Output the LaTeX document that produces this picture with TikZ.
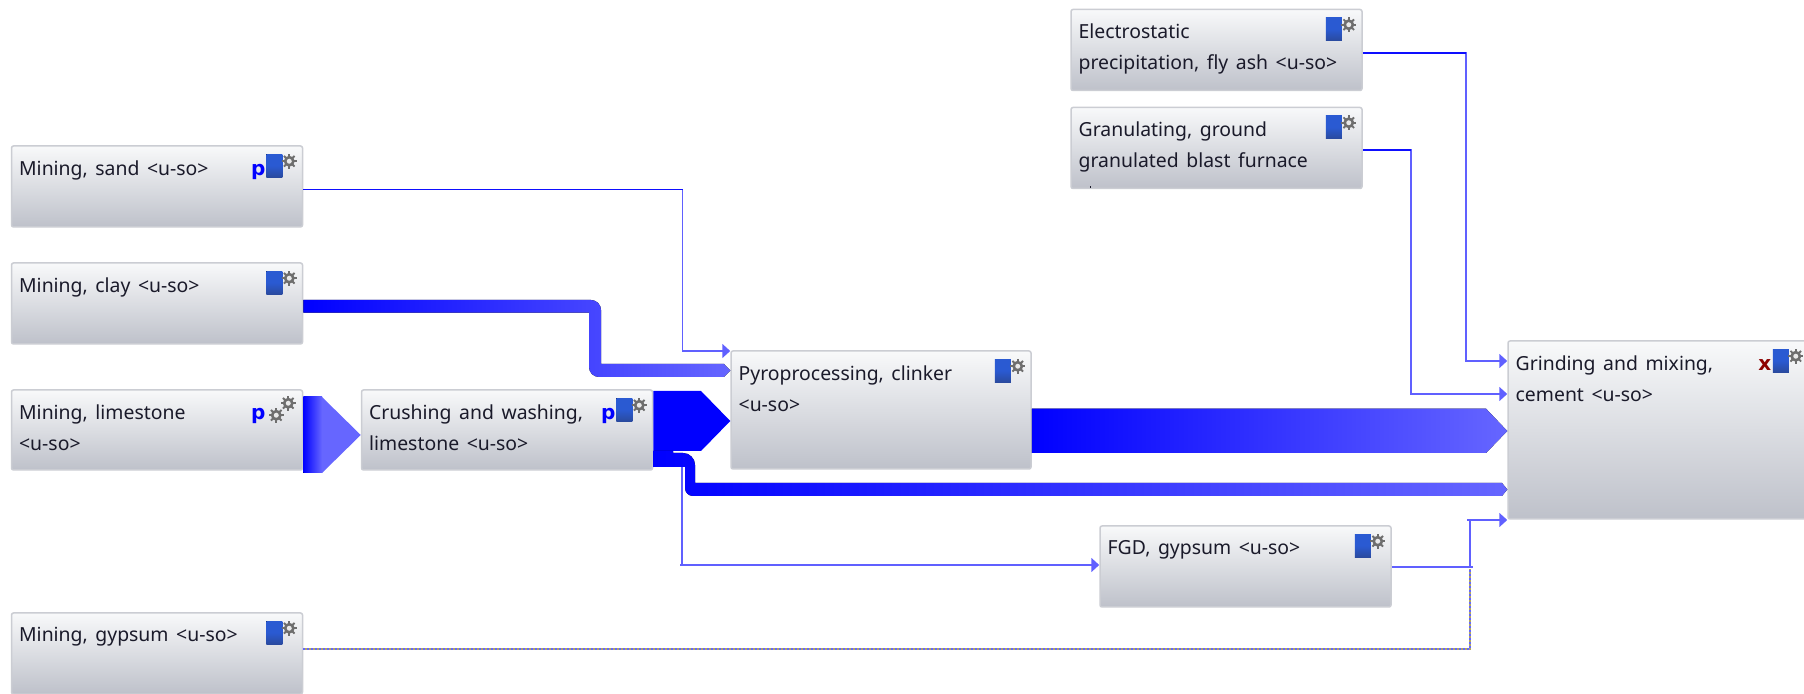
\documentclass[tikz,border=0pt]{standalone}
\usepackage{fontspec}
\setmainfont{Noto Sans}[WordSpace=1.5]
\newfontfamily\flagfont{DejaVu Sans}
\usetikzlibrary{arrows.meta,calc}
\definecolor{boxtop}{HTML}{F8F9FA}
\definecolor{boxbot}{HTML}{BEC1CA}
\definecolor{boxline}{HTML}{CBCDD3}
\definecolor{flowdark}{HTML}{0000FF}
\definecolor{flowlight}{HTML}{6666FF}
\definecolor{thinline}{HTML}{6060FF}
\definecolor{iconblue}{HTML}{2A5AD2}
\definecolor{iconlow}{HTML}{2A4A9E}
\definecolor{gearcol}{HTML}{6E6E6E}
\definecolor{textcol}{HTML}{1A1A2A}
\definecolor{mixline}{HTML}{B0A860}
\begin{document}
\begin{tikzpicture}[x=0.5pt,y=-0.5pt,>={Triangle[length=4pt,width=7pt]},
box/.style={draw=boxline,line width=0.75pt,rounded corners=1pt,top color=boxtop,bottom color=boxbot,inner sep=0pt,minimum width=145.5pt,minimum height=40.5pt},
boxtext/.style={anchor=north west,align=left,inner sep=0pt,font=\fontsize{9.7}{15.5}\selectfont,text=textcol,xshift=4pt,yshift=-7.5pt},
pflag/.style={anchor=base,inner sep=0pt,font=\fontsize{10}{12}\flagfont\bfseries,text=flowdark,xshift=-22.5pt,yshift=-15pt},
thin/.style={draw=thinline,line width=0.8pt},
thinstart/.style={draw=flowdark!85!thinline,line width=0.8pt},
flowfade/.style={left color=flowdark,right color=flowlight},
gear/.pic={\foreach \a in {0,45,...,315}\draw[gearcol,line width=0.9pt] (0,0)--(\a:7.5);
 \fill[gearcol] (0,0) circle (5.5); \fill[white!85!gearcol] (0,0) circle (2.5);},
procicon/.pic={\fill[top color=iconblue,bottom color=iconlow,middle color=iconblue] (-37,9) rectangle (-21,32);
 \pic at (-14,16) {gear};}]
\useasboundingbox (0,0) rectangle (1804,694);
\clip (0,0) rectangle (1804,694);
\node[box] (sand) at (157,186.5) {};
\node[box] (clay) at (157,303.5) {};
\node[box,minimum height=40pt] (limestone) at (157,430) {};
\node[box,minimum height=40pt] (crushing) at (507,430) {};
\node[box,minimum width=150pt,minimum height=59pt] (pyro) at (881,410) {};
\node[box] (ash) at (1216.5,50) {};
\node[box] (slag) at (1216.5,148) {};
\node[box] (fgd) at (1245.5,566.5) {};
\node[box] (gypsum) at (157,653.5) {};
\node[box,minimum width=150.5pt,minimum height=89pt] (cement) at (1658.5,430) {};
\node[boxtext] (sandtext) at (sand.north west) {Mining, sand <u-so>};
\node[boxtext] (claytext) at (clay.north west) {Mining, clay <u-so>};
\node[boxtext] (limestonetext) at (limestone.north west) {Mining, limestone\\<u-so>};
\node[boxtext] (crushingtext) at (crushing.north west) {Crushing and washing,\\limestone <u-so>};
\node[boxtext] (pyrotext) at (pyro.north west) {Pyroprocessing, clinker\\<u-so>};
\node[boxtext] (ashtext) at (ash.north west) {Electrostatic\\precipitation, fly ash <u-so>};
\node[boxtext] (slagtext) at (slag.north west) {Granulating, ground\\granulated blast furnace};
\node[boxtext] (fgdtext) at (fgd.north west) {FGD, gypsum <u-so>};
\node[boxtext] (gypsumtext) at (gypsum.north west) {Mining, gypsum <u-so>};
\node[boxtext] (cementtext) at (cement.north west) {Grinding and mixing,\\cement <u-so>};
\fill[textcol] (1090,186) rectangle (1091,188.5);
\foreach \b in {sand,clay,crushing,pyro,ash,slag,fgd,gypsum,cement} \pic at (\b.north east) {procicon};
\pic at ($(limestone.north east)+(-27,26)$) {gear};
\pic at ($(limestone.north east)+(-15,14)$) {gear};
\node[pflag] (sandflag) at (sand.north east) {p};
\node[pflag] (limestoneflag) at (limestone.north east) {p};
\node[pflag] (crushingflag) at (crushing.north east) {p};
\node[pflag,text=red!55!black] (cementflag) at (cement.north east) {x};
% thin flows
\draw[thin,->] (sand.east |- 0,189.5) -- (682.5,189.5) -- (682.5,351) -- (pyro.west |- 0,351);
\draw[thinstart] (sand.east |- 0,189.5) -- (682.5,189.5);
\draw[thin,->] (ash.east |- 0,53) -- (1466,53) -- (1466,361) -- (cement.west |- 0,361);
\draw[thinstart] (ash.east |- 0,53) -- (1466,53);
\draw[thin,->] (slag.east |- 0,150) -- (1411,150) -- (1411,394) -- (cement.west |- 0,394);
\draw[thinstart] (slag.east |- 0,150) -- (1411,150);
\draw[thin,->] (682,467) -- (682,565) -- (680,565) -- (fgd.west |- 0,565);
\draw[thin] (fgd.east |- 0,567) -- (1473,567);
\draw[draw=mixline,line width=0.8pt] (gypsum.east |- 0,649) -- (1470,649) -- (1470,569);
\draw[draw=flowlight,line width=0.8pt,dash pattern=on 1pt off 1pt] (gypsum.east |- 0,649) -- (1470,649) -- (1470,569);
\draw[thin,->] (1470,567) -- (1470,520) -- (1467,520) -- (cement.west |- 0,520);
% thick flows
\fill[flowfade] (clay.east |- 0,300) [rounded corners=5] -- (601,300) [sharp corners] -- (601,364) -- (724,364) -- (pyro.west |- 0,370.5) -- (724,377) [rounded corners=5] -- (589,377) [sharp corners] -- (589,312.7) -- (clay.east |- 0,312.7) -- cycle;
\fill[flowlight] (limestone.east |- 0,397) -- (322,397) -- (crushing.west |- 0,435) -- (322,473) -- (limestone.east |- 0,473) -- cycle;
\fill[flowfade] (limestone.east |- 0,397) rectangle (322,473);
\fill[flowdark] (crushing.east |- 0,391) -- (701,391) -- (pyro.west |- 0,421) -- (701,451) -- (crushing.east |- 0,451) -- cycle;
\fill[flowfade] (crushing.east |- 0,451) -- (673,451) -- (673,453) [rounded corners=6] -- (695,453) [sharp corners] -- (695,483) -- (1502,483) -- (cement.west |- 0,489.5) -- (1502,496) [rounded corners=4] -- (685,496) [sharp corners] -- (685,467) -- (crushing.east |- 0,467) -- cycle;
\fill[flowfade] (pyro.east |- 0,408.7) -- (1486,408.7) -- (cement.west |- 0,431) -- (1486,453) -- (pyro.east |- 0,453) -- cycle;
\end{tikzpicture}
\end{document}
